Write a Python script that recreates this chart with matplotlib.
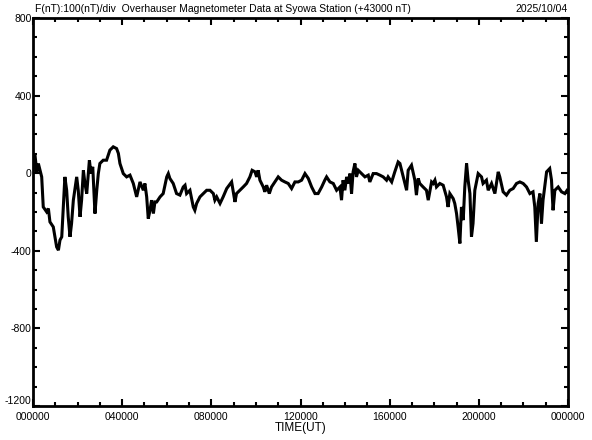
import matplotlib
matplotlib.use("Agg")
import matplotlib.pyplot as plt
from matplotlib.ticker import MultipleLocator, FixedLocator

# ---- data (hours UT, F offset from 43000 nT) ----
hours = [0.01, 0.09, 0.17, 0.24, 0.39, 0.46, 0.61, 0.69, 0.76, 0.91, 1.06, 1.14, 1.21, 1.29,
         1.36, 1.43, 1.51, 1.58, 1.66, 1.73, 1.81, 1.96, 2.03, 2.11, 2.18, 2.26, 2.33, 2.41,
         2.53, 2.60, 2.68, 2.78, 2.86, 2.93, 3.00, 3.15, 3.30, 3.45, 3.60, 3.75, 3.83, 3.90,
         4.05, 4.20, 4.35, 4.50, 4.65, 4.80, 4.95, 5.02, 5.10, 5.17, 5.25, 5.32, 5.40, 5.47,
         5.55, 5.70, 5.84, 6.00, 6.07, 6.14, 6.29, 6.44, 6.59, 6.74, 6.82, 6.89, 7.04, 7.19,
         7.26, 7.34, 7.49, 7.64, 7.79, 7.94, 8.09, 8.16, 8.24, 8.39, 8.53, 8.69, 8.91, 9.06,
         9.13, 9.28, 9.43, 9.58, 9.73, 9.83, 9.96, 10.03, 10.10, 10.18, 10.33, 10.40, 10.48,
         10.60, 10.70, 10.85, 11.00, 11.15, 11.30, 11.45, 11.60, 11.75, 11.90, 12.05, 12.20,
         12.35, 12.50, 12.65, 12.79, 12.95, 13.09, 13.17, 13.32, 13.47, 13.62, 13.77, 13.84,
         13.91, 13.99, 14.07, 14.14, 14.22, 14.29, 14.36, 14.44, 14.51, 14.59, 14.74, 14.89,
         15.04, 15.11, 15.26, 15.41, 15.56, 15.71, 15.86, 15.93, 16.09, 16.23, 16.38, 16.46,
         16.61, 16.76, 16.83, 16.98, 17.13, 17.20, 17.28, 17.35, 17.50, 17.65, 17.73, 17.88,
         17.95, 18.03, 18.10, 18.25, 18.40, 18.55, 18.62, 18.70, 18.85, 18.92, 19.00, 19.07,
         19.15, 19.22, 19.30, 19.37, 19.45, 19.52, 19.60, 19.67, 19.74, 19.82, 19.97, 20.12,
         20.19, 20.34, 20.42, 20.57, 20.72, 20.87, 20.94, 21.09, 21.24, 21.39, 21.54, 21.69,
         21.84, 21.99, 22.14, 22.29, 22.43, 22.51, 22.58, 22.66, 22.74, 22.81, 22.88, 23.04,
         23.18, 23.26, 23.33, 23.41, 23.56, 23.71, 23.86, 23.96]
f_nt = [15, 93, 7, 50, -19, -174, -199, -182, -251, -277, -380, -397, -345, -328,
        -174, -19, -88, -225, -328, -259, -139, -19, -88, -225, -139, 15, -53, -105,
        67, -2, 33, -208, -88, -2, 50, 67, 67, 119, 136, 127, 102, 50,
        -2, -19, -10, -53, -122, -45, -88, -53, -122, -234, -191, -139, -208, -148,
        -148, -122, -105, -19, -2, -27, -53, -105, -113, -71, -62, -105, -88, -174,
        -191, -156, -122, -105, -88, -88, -105, -139, -122, -156, -122, -79, -45, -148,
        -105, -88, -71, -53, -19, 15, 7, -19, 15, -36, -71, -96, -62,
        -105, -71, -45, -19, -36, -45, -53, -79, -45, -45, -36, -2,
        -27, -71, -105, -105, -71, -36, -19, -45, -53, -88, -71, -139,
        -36, -88, -19, -53, -2, -105, 7, 50, -19, 15, -2, -19,
        -10, -45, -2, -2, -10, -19, -36, -19, -45, 7, 58, 50,
        -19, -88, 15, 41, -36, -113, -27, -53, -71, -88, -139, -45,
        -53, -36, -71, -53, -62, -122, -174, -105, -131, -156, -208, -277,
        -362, -174, -242, -71, 50, -36, -105, -328, -259, -88, -2, -19,
        -53, -36, -88, -53, -105, 7, -19, -96, -113, -88, -79, -53,
        -45, -53, -71, -105, -96, -174, -354, -156, -105, -259, -139, 7,
        24, -36, -191, -88, -71, -96, -105, -88]

xtick_hours = [0, 4, 8, 12, 16, 20, 24]
xtick_labels = ["000000", "040000", "080000", "120000", "160000", "200000", "000000"]
ytick_vals = [800, 400, 0, -400, -800, -1200]
ytick_labels = ["800", "400", "0", "-400", "-800", "-1200"]

title_left = "F(nT):100(nT)/div  Overhauser Magnetometer Data at Syowa Station (+43000 nT)"
title_right = "2025/10/04"
xlabel = "TIME(UT)"

FONT = "Liberation Sans"
FS = 7.5

fig = plt.figure(figsize=(5.92, 4.40), dpi=100)
ax = fig.add_axes([33 / 592, 34 / 440, 535 / 592, 388 / 440])
ax.plot(hours, f_nt, color="black", lw=2.2, solid_joinstyle="miter")

ax.set_xlim(0, 24)
ax.set_ylim(-1200, 800)
ax.xaxis.set_major_locator(FixedLocator(xtick_hours))
ax.xaxis.set_minor_locator(MultipleLocator(1))
ax.yaxis.set_major_locator(FixedLocator(ytick_vals))
ax.yaxis.set_minor_locator(MultipleLocator(100))
ax.set_xticklabels(xtick_labels, fontfamily=FONT, fontsize=FS)
ax.set_yticklabels(ytick_labels, fontfamily=FONT, fontsize=FS)
ax.tick_params(which="both", direction="in", top=True, right=True, color="black", width=1.5)
ax.tick_params(which="major", length=5)
ax.tick_params(which="minor", length=3)
ax.tick_params(axis="x", pad=4)
ax.tick_params(axis="y", pad=1)
# nudge the lowest y label up so it clears the first time label
for lbl in ax.get_yticklabels():
    if lbl.get_text() == "-1200":
        lbl.set_verticalalignment("bottom")
for s in ax.spines.values():
    s.set_linewidth(2)

ax.set_xlabel(xlabel, fontfamily=FONT, fontsize=8.5, labelpad=0)
fig.text(35 / 592, 1 - 9 / 440, title_left, fontfamily=FONT, fontsize=7.5, ha="left", va="center")
fig.text(568 / 592, 1 - 9 / 440, title_right, fontfamily=FONT, fontsize=7.5, ha="right", va="center")

fig.savefig("out.png", dpi=100)
